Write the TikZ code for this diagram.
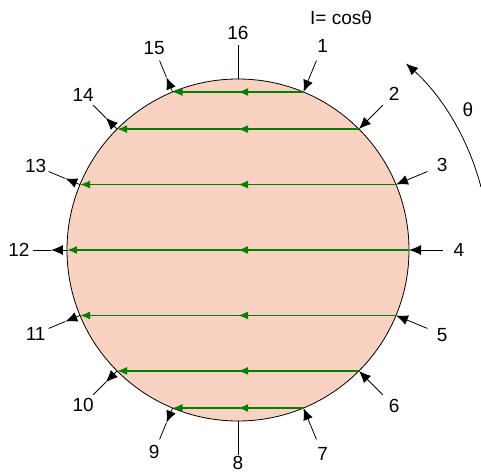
\documentclass[tikz,border=0pt]{standalone}
\usepackage{fontspec}
\setmainfont{Liberation Sans}
\usetikzlibrary{arrows.meta,decorations.markings}
\definecolor{discfill}{RGB}{249,210,194}
\definecolor{raygreen}{RGB}{0,128,0}

\begin{document}
\begin{tikzpicture}[x=1pt,y=1pt,every node/.style={font=\fontsize{19}{21}\selectfont},
      ray/.style={draw=raygreen,line width=1.5pt,-{Latex[length=10pt,width=8pt]},
        postaction={decorate},
        decoration={markings,mark=at position 0.5 with {\arrow[raygreen]{Latex[length=10pt,width=8pt]}}}},
      tick/.style={line width=0.8pt},
      inarrow/.style={line width=0.8pt,-{Latex[length=12pt,width=10pt]}}]
    \useasboundingbox (-238,-224) rectangle (243,250);
    % disc
    \draw[fill=discfill,line width=0.8pt] (0,0) circle (171);
    % points round the rim
    \foreach \k/\r in {1/221,2/221,3/221,4/221,5/221,6/221,7/221,8/213,
                       9/219,10/219,11/219,12/219,13/219,14/219,15/219,16/217}{
      \pgfmathsetmacro\ang{(4-\k)*22.5}
      \coordinate (c\k) at (\ang:171);
      \coordinate (t\k) at (\ang:187);
      \coordinate (o\k) at (\ang:205);
      \node (n\k) at (\ang:\r) {\k};
    }
    % rays through the disc
    \foreach \a/\b in {1/15,2/14,3/13,4/12,5/11,6/10,7/9}{\draw[ray](c\a)--(c\b);}
    % incoming and outgoing
    \foreach \k in {1,...,7}{\draw[inarrow](o\k)--(c\k);}
    \foreach \k in {9,...,15}{\draw[inarrow](c\k)--(t\k); \draw[tick](t\k)--(o\k);}
    \foreach \k in {8,16}{\draw[tick](c\k)--(o\k);}
    % angle
    \coordinate (th0) at (14.5:251);
    \draw[inarrow] (th0) arc[start angle=14.5,end angle=48,radius=251];
    \node (theta) at (230,140) {θ};
    \node (law) at (103,232) {I= cosθ};
  \end{tikzpicture}
\end{document}
